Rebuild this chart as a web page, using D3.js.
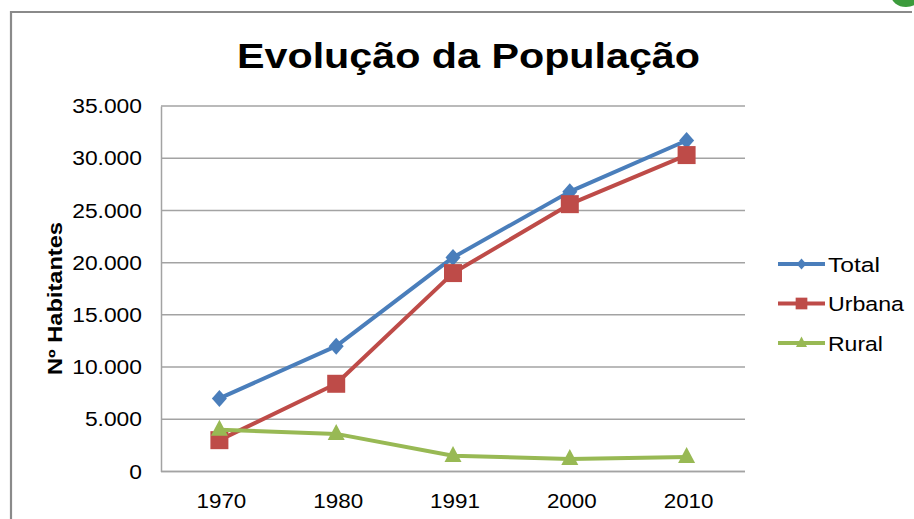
<!DOCTYPE html>
<html>
<head>
<meta charset="utf-8">
<script src="https://cdn.jsdelivr.net/npm/d3@7"></script>
<style>
  html, body { margin: 0; padding: 0; background: #fff; }
  svg { display: block; }
  text { font-family: "Liberation Sans", Arial, sans-serif; fill: #000; }
</style>
</head>
<body>
<svg id="chart" width="914" height="519"></svg>
<script>
// Population by census year
const years = ["1970", "1980", "1991", "2000", "2010"];
const total = [7000, 12000, 20500, 26800, 31700];
const urbana = [3000, 8400, 19000, 25600, 30300];
const rural = [4000, 3600, 1500, 1200, 1400];
const yTicks = [0, 5000, 10000, 15000, 20000, 25000, 30000, 35000];
const seriesNames = ["Total", "Urbana", "Rural"];

const series = [
  { name: seriesNames[0], values: total, color: "#4A7EBB", marker: "diamond" },
  { name: seriesNames[1], values: urbana, color: "#BE4B48", marker: "square" },
  { name: seriesNames[2], values: rural, color: "#98B954", marker: "triangle" }
];

const svg = d3.select("#chart");
const W = 914, H = 519;
const plot = { left: 161, right: 745, top: 106, bottom: 471.5 };

svg.append("rect").attr("width", W).attr("height", H).attr("fill", "#fff");

// small green emblem peeking in at the top right
svg.append("ellipse")
  .attr("cx", 906).attr("cy", -5).attr("rx", 15).attr("ry", 12)
  .attr("fill", "#3c9b3c");

// chart frame
svg.append("path")
  .attr("d", `M11,${H + 5} V12 H912`)
  .attr("fill", "none").attr("stroke", "#8a8a8a").attr("stroke-width", 2.2);

const x = d3.scalePoint().domain(years).range([plot.left, plot.right]).padding(0.5);
const y = d3.scaleLinear().domain([0, 35000]).range([plot.bottom, plot.top]);

const ptBR = d3.formatLocale({ decimal: ",", thousands: ".", grouping: [3], currency: ["R$", ""] });
const fmt = ptBR.format(",d");

// gridlines
svg.append("g")
  .selectAll("line")
  .data(yTicks)
  .join("line")
  .attr("x1", plot.left).attr("x2", plot.right)
  .attr("y1", d => y(d)).attr("y2", d => y(d))
  .attr("stroke", "#a3a3a3").attr("stroke-width", 1.5);

// y axis
const yAxis = svg.append("g")
  .attr("transform", `translate(${plot.left},0)`)
  .call(d3.axisLeft(y).tickValues(yTicks).tickFormat(fmt).tickSize(0));
yAxis.select(".domain").attr("stroke", "#a3a3a3").attr("stroke-width", 1.5);
yAxis.selectAll("text")
  .attr("x", 0).attr("dy", "0.34em")
  .attr("transform", "translate(-19,0) scale(1.17,1)")
  .style("font-size", "19.5px").style("font-family", "'Liberation Sans', Arial, sans-serif")
  .attr("fill", "#000");

// x axis
const xAxis = svg.append("g")
  .attr("transform", `translate(0,${plot.bottom})`)
  .call(d3.axisBottom(x).tickSize(0));
xAxis.select(".domain").attr("d", `M${plot.left},0H${plot.right}`)
  .attr("stroke", "#a3a3a3").attr("stroke-width", 1.5);
xAxis.selectAll("text")
  .attr("y", 0).attr("dy", 0)
  .attr("transform", "translate(1.5,36) scale(1.12,1)")
  .style("font-size", "20px").style("font-family", "'Liberation Sans', Arial, sans-serif")
  .attr("fill", "#000");

// title
svg.append("text")
  .attr("x", 468.5).attr("y", 68)
  .attr("text-anchor", "middle")
  .attr("textLength", 463).attr("lengthAdjust", "spacingAndGlyphs")
  .style("font-size", "35px").style("font-weight", "bold")
  .text("Evolução da População");

// y axis title
svg.append("text")
  .attr("transform", "translate(61.5,298.5) rotate(-90)")
  .attr("text-anchor", "middle")
  .attr("textLength", 153).attr("lengthAdjust", "spacingAndGlyphs")
  .style("font-size", "19.5px").style("font-weight", "bold")
  .text("Nº Habitantes");

// marker shapes
function markerPath(kind, s) {
  if (kind === "diamond") {
    const w = 7.5 * s, h = 8.5 * s;
    return `M0,${-h}L${w},0L0,${h}L${-w},0Z`;
  }
  if (kind === "square") {
    return d3.symbol(d3.symbolSquare, (18 * s) * (18 * s))();
  }
  const a = 17 * s, h = 16 * s;
  return `M0,${-h * 0.62}L${a / 2},${h * 0.38}L${-a / 2},${h * 0.38}Z`;
}

const line = d3.line().x((d, i) => x(years[i])).y(d => y(d));

series.forEach(s => {
  const g = svg.append("g");
  g.append("path")
    .attr("d", line(s.values))
    .attr("fill", "none").attr("stroke", s.color)
    .attr("stroke-width", 4).attr("stroke-linejoin", "round").attr("stroke-linecap", "round");
  g.selectAll("path.m")
    .data(s.values)
    .join("path")
    .attr("class", "m")
    .attr("transform", (d, i) => `translate(${x(years[i])},${y(d)})`)
    .attr("d", markerPath(s.marker, 1))
    .attr("fill", s.color);
});

// legend
const legendRows = [264, 303.5, 343];
const legendWidths = [52, 76, 55];
const legend = svg.append("g");
series.forEach((s, i) => {
  const gy = legendRows[i];
  legend.append("line")
    .attr("x1", 778).attr("x2", 825).attr("y1", gy).attr("y2", gy)
    .attr("stroke", s.color).attr("stroke-width", 4);
  legend.append("path")
    .attr("transform", `translate(801.5,${gy})`)
    .attr("d", markerPath(s.marker, 0.65))
    .attr("fill", s.color);
  legend.append("text")
    .attr("x", 828).attr("y", gy + 7.7)
    .attr("textLength", legendWidths[i]).attr("lengthAdjust", "spacingAndGlyphs")
    .style("font-size", "20.5px")
    .text(s.name);
});
</script>
</body>
</html>
